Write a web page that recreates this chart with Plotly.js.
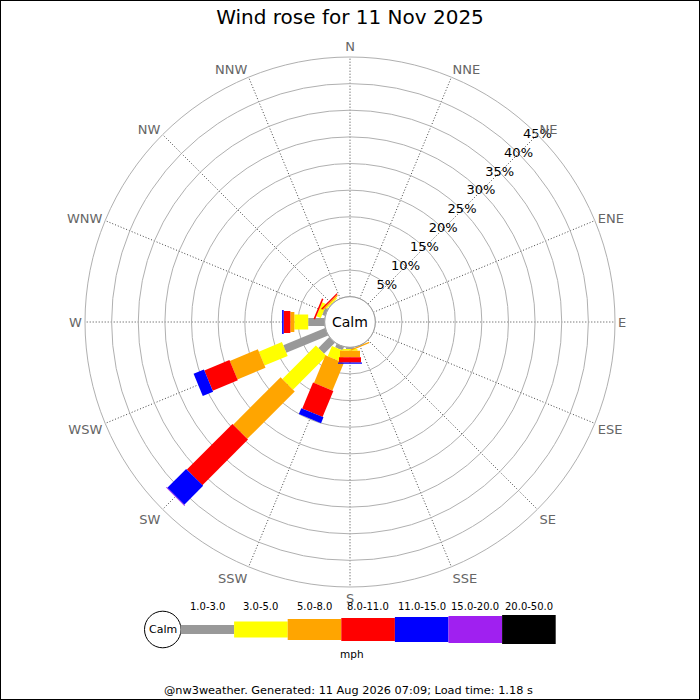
<!DOCTYPE html>
<html>
<head>
<meta charset="utf-8">
<script src="https://cdn.plot.ly/plotly-3.0.1.min.js"></script>
<style>
  html, body { margin: 0; padding: 0; background: #fff; }
  #WindRose { width: 700px; height: 700px; }
</style>
</head>
<body>
<div id="WindRose"></div>
<script>
// compass points, clockwise from N
const dirs = ['N','NNE','NE','ENE','E','ESE','SE','SSE','S','SSW','SW','WSW','W','WNW','NW','NNW'];

// speed bins (mph) and their colours
const speedBins = ['1.0-3.0','3.0-5.0','5.0-8.0','8.0-11.0','11.0-15.0','15.0-20.0','20.0-50.0'];
const binColors = ['#999999','#ffff00','#ffa500','#ff0000','#0000ff','#a020f0','#000000'];

// % of time per direction, one array per speed bin
const pct_1_3   = [0,0,0,0,0,0,0,0.05,0.3,0.7,2.9,8.5,3.1,0.6,0.1,0];
const pct_3_5   = [0,0,0,0,0,0,0,0,0.35,2.1,8.9,4.7,2.6,0.9,0.25,0];
const pct_5_8   = [0,0,0,0,0,0,0,0.25,1.2,5.6,12.6,5.7,0.75,0,0.25,0];
const pct_8_11  = [0,0,0,0,0,0,0,0,1.0,5.3,12.1,5.1,1.25,0.3,0.25,0];
const pct_11_15 = [0,0,0,0,0,0,0,0,0.25,1.2,5.0,2.1,0.3,0,0,0];
const pct_15_20 = [0,0,0,0,0,0,0,0,0,0,0.15,0,0,0,0,0];
const pct_20_50 = [0,0,0,0,0,0,0,0,0,0,0,0,0,0,0,0];

const rTicks = [5,10,15,20,25,30,35,40,45];

const freqs = [pct_1_3, pct_3_5, pct_5_8, pct_8_11, pct_11_15, pct_15_20, pct_20_50];
const barW = [8, 15, 20, 22, 24, 26, 28];

const FONT = 'DejaVu Sans, sans-serif';
const W = 700, H = 700;
const cx = 350, cy = 322, R = 265, holeR = 25.3;
const px = (x)=>x/W;
const py = (y)=>1 - y/H;

// stacked segments: one trace per speed bin, gaps between directions
var traces = [];
var base = dirs.map(()=>0);
freqs.forEach((vals, b)=>{
    let r = [], th = [];
    vals.forEach((v, i)=>{
        if(v > 0){
            r.push(base[i], base[i] + v, null);
            th.push(dirs[i], dirs[i], null);
        }
        base[i] += v;
    });
    traces.push({
        type: 'scatterpolar', mode: 'lines',
        r: r, theta: th, connectgaps: false,
        line: {color: binColors[b], width: barW[b]},
        hoverinfo: 'skip', showlegend: false
    });
});

// percentage labels sitting on the NE spoke
traces.push({
    type: 'scatterpolar', mode: 'text',
    r: rTicks, theta: rTicks.map(()=>'NE'),
    text: rTicks.map((t)=>t + '%'),
    textposition: 'middle center',
    textfont: {family: FONT, size: 13, color: '#000'},
    hoverinfo: 'skip', showlegend: false
});

var shapes = [];
var annotations = [];

// frame
shapes.push({type:'rect', xref:'paper', yref:'paper', x0:0, x1:1, y0:0, y1:1,
    line:{color:'#000', width:2}});
// calm circle in the middle
shapes.push({type:'circle', xref:'paper', yref:'paper', layer:'above',
    x0:px(cx-holeR), x1:px(cx+holeR), y0:py(cy+holeR), y1:py(cy-holeR),
    fillcolor:'#fff', line:{color:'#999', width:1}});
annotations.push({xref:'paper', yref:'paper', x:px(cx), y:py(cy), text:'Calm',
    showarrow:false, xanchor:'center', yanchor:'middle',
    font:{family:FONT, size:14, color:'#000'}});

// key along the bottom
const keyY = 629.5, keyX0 = 180.5, keyStep = 53.6;
shapes.push({type:'circle', xref:'paper', yref:'paper',
    x0:px(144.5), x1:px(181), y0:py(keyY+18.3), y1:py(keyY-18.3),
    fillcolor:'#fff', line:{color:'#000', width:1}});
annotations.push({xref:'paper', yref:'paper', x:px(162.7), y:py(keyY), text:'Calm',
    showarrow:false, xanchor:'center', yanchor:'middle',
    font:{family:FONT, size:11, color:'#000'}});
speedBins.forEach((lab, b)=>{
    let x0 = keyX0 + b*keyStep;
    let h = barW[b] + 1;
    shapes.push({type:'rect', xref:'paper', yref:'paper',
        x0:px(x0), x1:px(x0+keyStep), y0:py(keyY+h/2), y1:py(keyY-h/2),
        fillcolor:binColors[b], line:{width:0}});
    annotations.push({xref:'paper', yref:'paper', x:px(x0+keyStep/2), y:py(606.5),
        text:lab, showarrow:false, xanchor:'center', yanchor:'middle',
        font:{family:FONT, size:10, color:'#000'}});
});
annotations.push({xref:'paper', yref:'paper', x:px(352), y:py(654), text:'mph',
    showarrow:false, xanchor:'center', yanchor:'middle',
    font:{family:FONT, size:10.5, color:'#000'}});
annotations.push({xref:'paper', yref:'paper', x:px(348), y:py(690),
    text:'@nw3weather. Generated: 11 Aug 2026 07:09; Load time: 1.18 s',
    showarrow:false, xanchor:'center', yanchor:'middle',
    font:{family:FONT, size:11.3, color:'#000'}});

var layout = {
    width: W, height: H,
    margin: {l:0, r:0, t:0, b:0},
    paper_bgcolor: '#fff',
    font: {family: FONT},
    title: {text: 'Wind rose for 11 Nov 2025', x: 0.5, xanchor: 'center',
        y: py(17), yanchor: 'middle', yref: 'container',
        font: {family: FONT, size: 20, color: '#000'}},
    showlegend: false,
    polar: {
        domain: {x: [px(cx-R), px(cx+R)], y: [py(cy+R), py(cy-R)]},
        bgcolor: '#fff',
        hole: holeR / R,
        radialaxis: {
            range: [0, 45], tickvals: rTicks, showticklabels: false,
            ticks: '', showline: false,
            gridcolor: '#b0b0b0', gridwidth: 1
        },
        angularaxis: {
            type: 'category', categoryarray: dirs,
            rotation: 90, direction: 'clockwise',
            showline: true, linecolor: '#b0b0b0', linewidth: 1,
            gridcolor: '#444', gridwidth: 1, griddash: '1px,2px',
            ticks: '',
            tickfont: {family: FONT, size: 13, color: '#666'}
        }
    },
    shapes: shapes,
    annotations: annotations
};

Plotly.newPlot('WindRose', traces, layout, {staticPlot: true});
</script>
</body>
</html>
